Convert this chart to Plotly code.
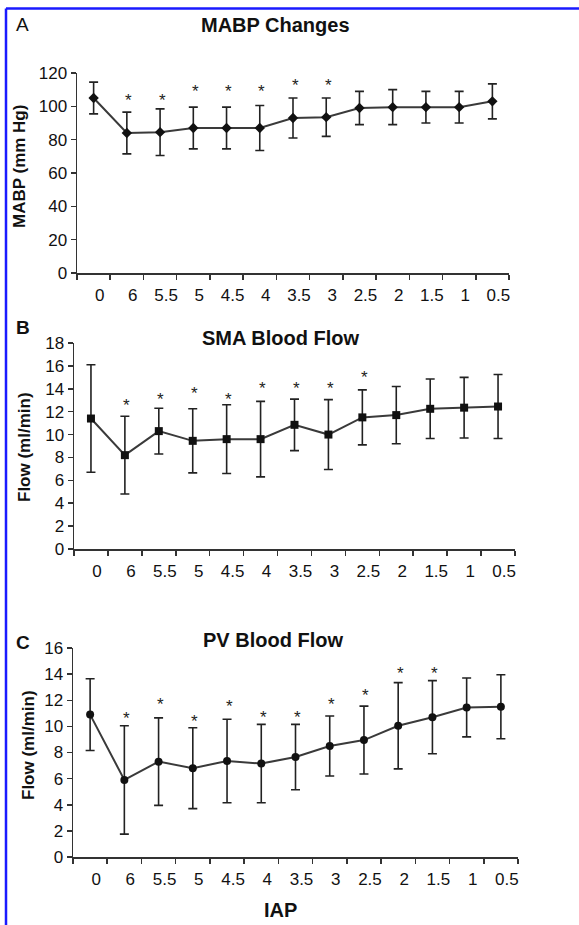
import plotly.graph_objects as go

W, H = 579, 925

# ---------------- data ----------------
iap_labels = ["0", "6", "5.5", "5", "4.5", "4", "3.5", "3", "2.5", "2", "1.5", "1", "0.5"]

mabp_mean = [105, 84, 84.5, 87, 87, 87, 93, 93.5, 99, 99.5, 99.5, 99.5, 103]
mabp_sd = [9.5, 12.5, 14, 12.5, 12.5, 13.5, 12, 11.5, 10, 10.5, 9.5, 9.5, 10.5]
mabp_star_idx = [1, 2, 3, 4, 5, 6, 7]
mabp_star_y = [106, 106, 111, 111, 111, 115, 115]

sma_mean = [11.4, 8.2, 10.3, 9.45, 9.6, 9.6, 10.85, 10.0, 11.5, 11.7, 12.25, 12.35, 12.45]
sma_sd = [4.7, 3.4, 2.0, 2.8, 3.0, 3.3, 2.25, 3.05, 2.4, 2.5, 2.6, 2.65, 2.8]
sma_star_idx = [1, 2, 3, 4, 5, 6, 7, 8]
sma_star_y = [12.9, 13.4, 13.95, 13.4, 14.4, 14.4, 14.4, 15.3]

pv_mean = [10.9, 5.9, 7.3, 6.8, 7.35, 7.15, 7.65, 8.5, 8.95, 10.05, 10.7, 11.45, 11.5]
pv_sd = [2.75, 4.15, 3.35, 3.1, 3.2, 3.0, 2.5, 2.3, 2.6, 3.3, 2.8, 2.25, 2.45]
pv_star_idx = [1, 2, 3, 4, 5, 6, 7, 8, 9, 10]
pv_star_y = [10.9, 12.0, 10.7, 11.8, 10.95, 10.95, 11.95, 12.65, 14.35, 14.35]

# ---------------- layout helpers ----------------
def px_x(p):
    return p / W

def px_y(p):
    return 1 - p / H

panels = [
    dict(key="", x0=77, x1=509, ytop=73, ybot=273, yr=[0, 120], dt=20,
         mean=mabp_mean, sd=mabp_sd, sidx=mabp_star_idx, sy=mabp_star_y,
         symbol="diamond", msize=8, title="MABP Changes", title_y=25, title_x=275,
         letter="A", letter_bold=False, letter_y=25, ytitle="MABP (mm Hg)", ytitle_x=20, ytitle_y=167),
    dict(key="2", x0=74, x1=515, ytop=343, ybot=549, yr=[0, 18], dt=2,
         mean=sma_mean, sd=sma_sd, sidx=sma_star_idx, sy=sma_star_y,
         symbol="square", msize=8, title="SMA Blood Flow", title_y=338, title_x=280,
         letter="B", letter_bold=True, letter_y=328, ytitle="Flow (ml/min)", ytitle_x=25, ytitle_y=447),
    dict(key="3", x0=73, x1=518, ytop=648, ybot=857, yr=[0, 16], dt=2,
         mean=pv_mean, sd=pv_sd, sidx=pv_star_idx, sy=pv_star_y,
         symbol="circle", msize=8, title="PV Blood Flow", title_y=640, title_x=273,
         letter="C", letter_bold=True, letter_y=642, ytitle="Flow (ml/min)", ytitle_x=28, ytitle_y=745),
]

fig = go.Figure()
annotations = []
tick_font = dict(family="Liberation Sans, Arial", size=17, color="#111")

for p in panels:
    xa = "x" + p["key"]
    ya = "y" + p["key"]
    fig.add_trace(go.Scatter(
        x=iap_labels, y=p["mean"], xaxis=xa, yaxis=ya, mode="lines+markers",
        line=dict(color="#3a3a3a", width=2),
        marker=dict(symbol=p["symbol"], size=p["msize"], color="#111"),
        error_y=dict(type="data", array=p["sd"], visible=True, color="#222", thickness=1.6, width=4.5),
        showlegend=False, hoverinfo="skip"))
    for i, yv in zip(p["sidx"], p["sy"]):
        # category axis: annotation x given as category index
        annotations.append(dict(x=i, y=yv, xref=xa, yref=ya, text="*", showarrow=False,
                                xanchor="center", yanchor="middle", xshift=2, yshift=-4,
                                font=dict(family="Liberation Sans, Arial", size=17, color="#222")))

    xkey = "xaxis" + p["key"]
    ykey = "yaxis" + p["key"]
    fig.layout[xkey] = dict(
        domain=[px_x(p["x0"]), px_x(p["x1"])], anchor=ya, type="category",
        categoryorder="array", categoryarray=iap_labels, range=[-0.5, 12.5],
        tickson="boundaries", ticks="outside", ticklen=5, tickwidth=1.5, tickcolor="#333",
        showline=True, linecolor="#333", linewidth=1.5, showgrid=False, zeroline=False,
        tickfont=tick_font, tickangle=0, ticklabelshift=6, ticklabelstandoff=6,
        automargin=False, fixedrange=True)
    fig.layout[ykey] = dict(
        domain=[px_y(p["ybot"]), px_y(p["ytop"])], anchor=xa, range=p["yr"],
        dtick=p["dt"], tick0=0, ticks="outside", ticklen=5, tickwidth=1.5, tickcolor="#333",
        showline=True, linecolor="#333", linewidth=1.5, showgrid=False, zeroline=False,
        tickfont=tick_font, automargin=False, fixedrange=True)

    annotations.append(dict(x=px_x(p["title_x"]), y=px_y(p["title_y"]), xref="paper", yref="paper",
                            text="<b>%s</b>" % p["title"], showarrow=False, xanchor="center", yanchor="middle",
                            font=dict(family="Liberation Sans, Arial", size=20, color="#111")))
    annotations.append(dict(x=px_x(14), y=px_y(p["letter_y"]), xref="paper", yref="paper",
                            text=("<b>%s</b>" if p["letter_bold"] else "%s") % p["letter"],
                            showarrow=False, xanchor="left", yanchor="middle",
                            font=dict(family="Liberation Sans, Arial", size=19, color="#111")))
    annotations.append(dict(x=px_x(p["ytitle_x"]), y=px_y(p["ytitle_y"]), xref="paper", yref="paper",
                            text="<b>%s</b>" % p["ytitle"], textangle=-90, showarrow=False,
                            xanchor="center", yanchor="middle",
                            font=dict(family="Liberation Sans, Arial", size=17, color="#111")))

annotations.append(dict(x=px_x(280), y=px_y(910), xref="paper", yref="paper", text="<b>IAP</b>",
                        showarrow=False, xanchor="center", yanchor="middle",
                        font=dict(family="Liberation Sans, Arial", size=20, color="#111")))

shapes = [
    dict(type="line", xref="paper", yref="paper", x0=px_x(6), x1=1, y0=px_y(8.5), y1=px_y(8.5),
         line=dict(color="#1a1aff", width=2.5)),
    dict(type="line", xref="paper", yref="paper", x0=px_x(6), x1=px_x(6), y0=px_y(8.5), y1=0,
         line=dict(color="#1a1aff", width=2.5)),
]

fig.update_layout(
    template="none",
    width=W, height=H, margin=dict(l=0, r=0, t=0, b=0, autoexpand=False),
    paper_bgcolor="white", plot_bgcolor="white",
    annotations=annotations, shapes=shapes, showlegend=False, hovermode=False,
)

fig.write_html("out.html", config={"displayModeBar": False, "staticPlot": True},
               post_script="document.body.style.margin='0px';document.body.style.overflow='hidden';")
